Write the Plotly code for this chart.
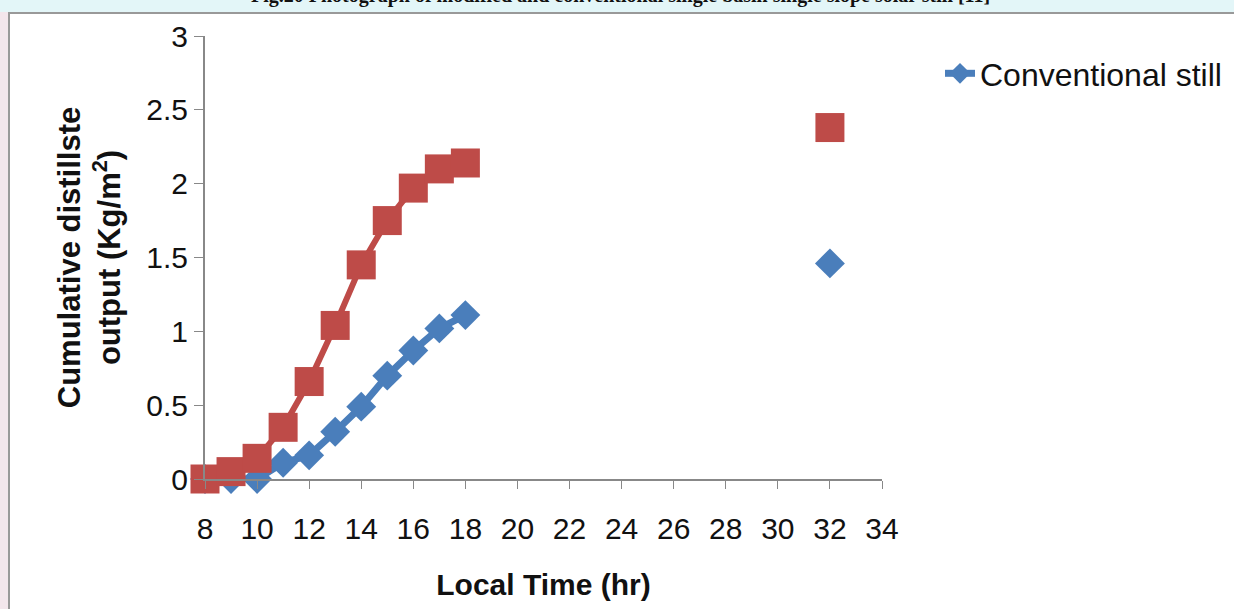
import plotly.graph_objects as go

hours = [8, 9, 10, 11, 12, 13, 14, 15, 16, 17, 18, 32]
modified = [0.0, 0.05, 0.14, 0.35, 0.66, 1.04, 1.45, 1.75, 1.97, 2.10, 2.14, 2.38]
conventional = [0.0, 0.0, 0.0, 0.11, 0.16, 0.32, 0.49, 0.70, 0.87, 1.02, 1.11, 1.46]
x_ticks = list(range(8, 35, 2))
y_ticks = [0, 0.5, 1, 1.5, 2, 2.5, 3]
y_ticktext = ["0", "0.5", "1", "1.5", "2", "2.5", "3"]

RED = "#BE4B48"
BLUE = "#4A7EBB"

fig = go.Figure()
fig.add_trace(go.Scatter(x=hours[:-1], y=conventional[:-1], mode="lines+markers",
                         line=dict(color=BLUE, width=7),
                         marker=dict(symbol="diamond", size=23, color=BLUE),
                         cliponaxis=False, name="Conventional still"))
fig.add_trace(go.Scatter(x=hours[-1:], y=conventional[-1:], mode="markers",
                         marker=dict(symbol="diamond", size=23, color=BLUE),
                         cliponaxis=False, showlegend=False, name="Conventional still"))
fig.add_trace(go.Scatter(x=hours[:-1], y=modified[:-1], mode="lines+markers",
                         line=dict(color=RED, width=6),
                         marker=dict(symbol="square", size=29, color=RED),
                         cliponaxis=False, showlegend=False, name="Modified still"))
fig.add_trace(go.Scatter(x=hours[-1:], y=modified[-1:], mode="markers",
                         marker=dict(symbol="square", size=29, color=RED),
                         cliponaxis=False, showlegend=False, name="Modified still"))

L, R, T, B = 205, 352, 36, 130
W, H = 1234, 609
pw, ph = W - L - R, H - T - B

def px(p):
    return (p - L) / pw

def py(p):
    return (H - B - p) / ph

FONT = "Liberation Sans Narrow, Arial Narrow, Liberation Sans, sans-serif"
fig.update_layout(
    width=W, height=H,
    margin=dict(l=L, r=R, t=T, b=B, autoexpand=False),
    paper_bgcolor="white", plot_bgcolor="white",
    font=dict(family=FONT, color="#111"),
    xaxis=dict(range=[8, 34], tickvals=x_ticks, ticks="outside", ticklen=8,
               tickcolor="#888", showline=True, linecolor="#888", linewidth=2,
               showgrid=False, zeroline=False, tickfont=dict(size=30, family=FONT),
               ticklabelstandoff=14,
               title=dict(text="<b>Local Time (hr)</b>", font=dict(size=30, family=FONT), standoff=30)),
    yaxis=dict(range=[0, 3], tickvals=y_ticks, ticktext=y_ticktext,
               ticks="outside", ticklen=9, tickcolor="#888", showline=True, linecolor="#888",
               linewidth=2, showgrid=False, zeroline=False, tickfont=dict(size=30, family=FONT),
               title=dict(text="<b>Cumulative distillste<br>output (Kg/m<sup>2</sup>)</b>",
                          font=dict(size=31, family=FONT), standoff=16)),
    legend=dict(x=px(940), y=py(46), xanchor="left", yanchor="top",
                font=dict(size=32, family=FONT, color="#111"), bgcolor="rgba(0,0,0,0)"),
    shapes=[
        dict(type="rect", xref="paper", yref="paper", x0=px(0), x1=px(W), y0=py(12), y1=py(0),
             fillcolor="#E3F6F8", line=dict(width=0), layer="below"),
        dict(type="rect", xref="paper", yref="paper", x0=px(0), x1=px(8), y0=py(H), y1=py(12),
             fillcolor="#F3E6EC", line=dict(width=0), layer="below"),
        dict(type="line", xref="paper", yref="paper", x0=px(8), x1=px(W), y0=py(13), y1=py(13),
             line=dict(color="#999", width=2)),
        dict(type="line", xref="paper", yref="paper", x0=px(9), x1=px(9), y0=py(13), y1=py(H),
             line=dict(color="#999", width=2)),
    ],
    annotations=[
        dict(text="<b>Fig.20 Photograph of modified and conventional single basin single slope solar still [11]</b>",
             xref="paper", yref="paper", x=px(620), y=py(-5), xanchor="center", yanchor="middle",
             showarrow=False, font=dict(family="Liberation Serif", size=20, color="#111")),
    ],
)

fig.write_html("out.html", config={"displayModeBar": False},
               post_script="document.body.style.margin='0';")
